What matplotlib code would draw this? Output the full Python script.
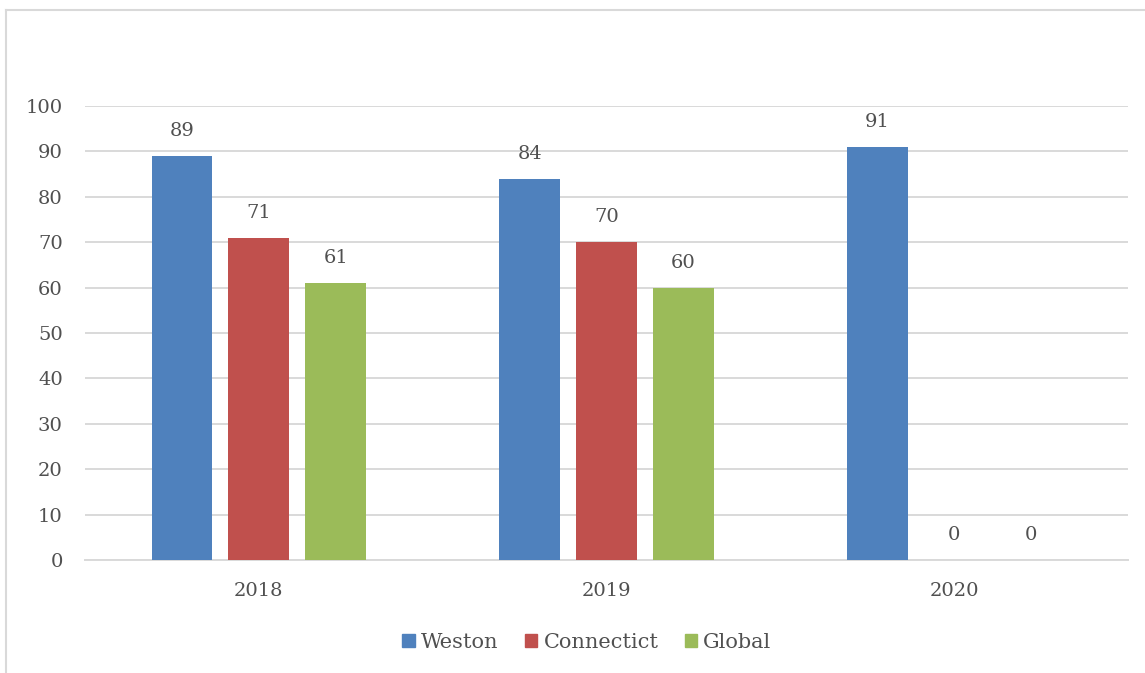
import matplotlib
matplotlib.use("Agg")
import matplotlib.pyplot as plt
import numpy as np
from matplotlib.patches import Rectangle
from matplotlib.lines import Line2D

years = ["2018", "2019", "2020"]
series_names = ["Weston", "Connectict", "Global"]
weston = [89, 84, 91]
connecticut = [71, 70, 0]
global_vals = [61, 60, 0]
yticks = [0, 10, 20, 30, 40, 50, 60, 70, 80, 90, 100]

colors = ["#4f81bd", "#c0504d", "#9bbb59"]
text_color = "#505050"
grid_color = "#d9d9d9"

plt.rcParams['font.family'] = ['DejaVu Serif']

W, H = 1145, 673
fig = plt.figure(figsize=(W / 100, H / 100), dpi=100)

# chart border (top and left only visible)
fig.add_artist(Line2D([5.5 / W, 1.0], [1 - 9.5 / H, 1 - 9.5 / H], color=grid_color, lw=1.5, transform=fig.transFigure))
fig.add_artist(Line2D([5.5 / W, 5.5 / W], [0, 1 - 9.5 / H], color=grid_color, lw=1.5, transform=fig.transFigure))

left, right = 85 / W, 1128 / W
top, bottom = 1 - 106 / H, 1 - 560 / H
ax = fig.add_axes([left, bottom, right - left, top - bottom])

x = np.arange(len(years))
bw = 0.175
offset = 0.221
fs = 14
data = [weston, connecticut, global_vals]
for i, (vals, c) in enumerate(zip(data, colors)):
    pos = x + (i - 1) * offset
    ax.bar(pos, vals, width=bw, color=c, zorder=3, label=series_names[i])
    for p, v in zip(pos, vals):
        ax.annotate(str(v), (p, v), xytext=(0, 18), textcoords="offset points",
                    ha="center", va="center", fontsize=fs, color=text_color)

ax.set_xlim(-0.5, 2.5)
ax.set_ylim(0, 100)
ax.set_yticks(yticks)
ax.set_xticks(x)
ax.set_xticklabels(years)
ax.yaxis.grid(True, color=grid_color, lw=1.4, zorder=0)
ax.set_axisbelow(True)
for s in ["top", "right", "left"]:
    ax.spines[s].set_visible(False)
ax.spines["bottom"].set_color(grid_color)
ax.spines["bottom"].set_linewidth(1.4)
ax.tick_params(axis="both", length=0, labelsize=fs, colors=text_color)
ax.tick_params(axis="y", pad=16)
ax.tick_params(axis="x", pad=16)

handles = [Rectangle((0, 0), 1, 1, color=c) for c in colors]
fig.legend(handles, series_names, loc="center", bbox_to_anchor=(587 / W, 1 - 642 / H),
           ncol=3, frameon=False, fontsize=15, handlelength=0.6, handleheight=0.6,
           handletextpad=0.3, columnspacing=1.25, labelcolor=text_color)

fig.savefig("out.png", dpi=100)
